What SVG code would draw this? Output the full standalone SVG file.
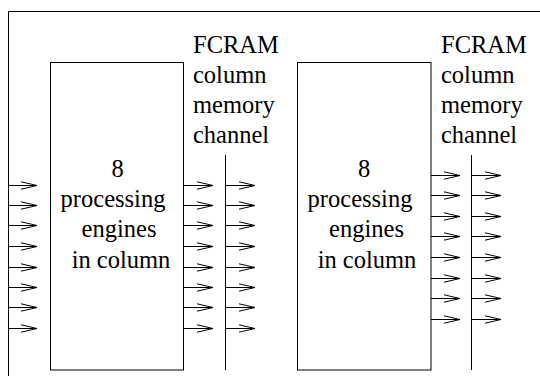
<svg xmlns="http://www.w3.org/2000/svg" width="540" height="376" viewBox="0 0 540 376">
<style>
  .ln { stroke: #000; stroke-width: 1; fill: none; }
  .box { stroke: #000; stroke-width: 1; fill: #fff; }
  .t { font-family: "Liberation Serif", "Times New Roman", serif; font-size: 24.5px; fill: #000; }
  .c { text-anchor: middle; }
  .arr { stroke: #000; stroke-width: 1; fill: none; marker-end: url(#chev); }
</style>
<defs>
  <marker id="chev" markerUnits="userSpaceOnUse" markerWidth="20" markerHeight="10" refX="16" refY="4" orient="auto" overflow="visible">
    <path d="M0,0.3 L16,4 L0,7.7" fill="none" stroke="#000" stroke-width="1"/>
  </marker>
</defs>
<rect width="540" height="376" fill="#fff"/>

<g id="frame">
  <path class="ln" d="M8.5,376 V11.5 H540"/>
</g>

<g id="engines-left">
  <rect class="box" x="50.5" y="62.5" width="133" height="307.5"/>
  <text class="t c" x="117.5" y="177">8</text>
  <text class="t c" x="113" y="207">processing</text>
  <text class="t c" x="119" y="237">engines</text>
  <text class="t c" x="121" y="268">in column</text>
</g>

<g id="engines-right">
  <rect class="box" x="297.5" y="62.5" width="133.5" height="307.5"/>
  <text class="t c" x="364" y="177">8</text>
  <text class="t c" x="360" y="207">processing</text>
  <text class="t c" x="366.5" y="237">engines</text>
  <text class="t c" x="367" y="268">in column</text>
</g>

<g id="channel-left">
  <text class="t" x="193" y="53">FCRAM</text>
  <text class="t" x="193" y="83">column</text>
  <text class="t" x="193" y="113">memory</text>
  <text class="t" x="193" y="143">channel</text>
  <line class="ln" x1="225.5" y1="155" x2="225.5" y2="370"/>
</g>

<g id="channel-right">
  <text class="t" x="441" y="53">FCRAM</text>
  <text class="t" x="441" y="83">column</text>
  <text class="t" x="441" y="113">memory</text>
  <text class="t" x="441" y="143">channel</text>
  <line class="ln" x1="471.5" y1="155" x2="471.5" y2="370"/>
</g>

<g id="connectors">
  <!-- inputs to left engines -->
  <path class="arr" d="M8.5,185.5 H37"/>
  <path class="arr" d="M8.5,205.5 H37"/>
  <path class="arr" d="M8.5,225.5 H37"/>
  <path class="arr" d="M8.5,246.5 H37"/>
  <path class="arr" d="M8.5,267.5 H37"/>
  <path class="arr" d="M8.5,287.5 H37"/>
  <path class="arr" d="M8.5,307.5 H37"/>
  <path class="arr" d="M8.5,328.5 H37"/>
  <!-- left engines to left channel -->
  <path class="arr" d="M183.5,185.5 H213"/>
  <path class="arr" d="M183.5,205.5 H213"/>
  <path class="arr" d="M183.5,225.5 H213"/>
  <path class="arr" d="M183.5,246.5 H213"/>
  <path class="arr" d="M183.5,267.5 H213"/>
  <path class="arr" d="M183.5,287.5 H213"/>
  <path class="arr" d="M183.5,307.5 H213"/>
  <path class="arr" d="M183.5,328.5 H213"/>
  <!-- left channel outputs -->
  <path class="arr" d="M225.5,185.5 H255"/>
  <path class="arr" d="M225.5,205.5 H255"/>
  <path class="arr" d="M225.5,225.5 H255"/>
  <path class="arr" d="M225.5,246.5 H255"/>
  <path class="arr" d="M225.5,267.5 H255"/>
  <path class="arr" d="M225.5,287.5 H255"/>
  <path class="arr" d="M225.5,307.5 H255"/>
  <path class="arr" d="M225.5,328.5 H255"/>
  <!-- right engines to right channel -->
  <path class="arr" d="M431,175.5 H460"/>
  <path class="arr" d="M431,195.5 H460"/>
  <path class="arr" d="M431,216.5 H460"/>
  <path class="arr" d="M431,236.5 H460"/>
  <path class="arr" d="M431,257.5 H460"/>
  <path class="arr" d="M431,278.5 H460"/>
  <path class="arr" d="M431,298.5 H460"/>
  <path class="arr" d="M431,319.5 H460"/>
  <!-- right channel outputs -->
  <path class="arr" d="M471.5,175.5 H501"/>
  <path class="arr" d="M471.5,195.5 H501"/>
  <path class="arr" d="M471.5,216.5 H501"/>
  <path class="arr" d="M471.5,236.5 H501"/>
  <path class="arr" d="M471.5,257.5 H501"/>
  <path class="arr" d="M471.5,278.5 H501"/>
  <path class="arr" d="M471.5,298.5 H501"/>
  <path class="arr" d="M471.5,319.5 H501"/>
</g>
</svg>
